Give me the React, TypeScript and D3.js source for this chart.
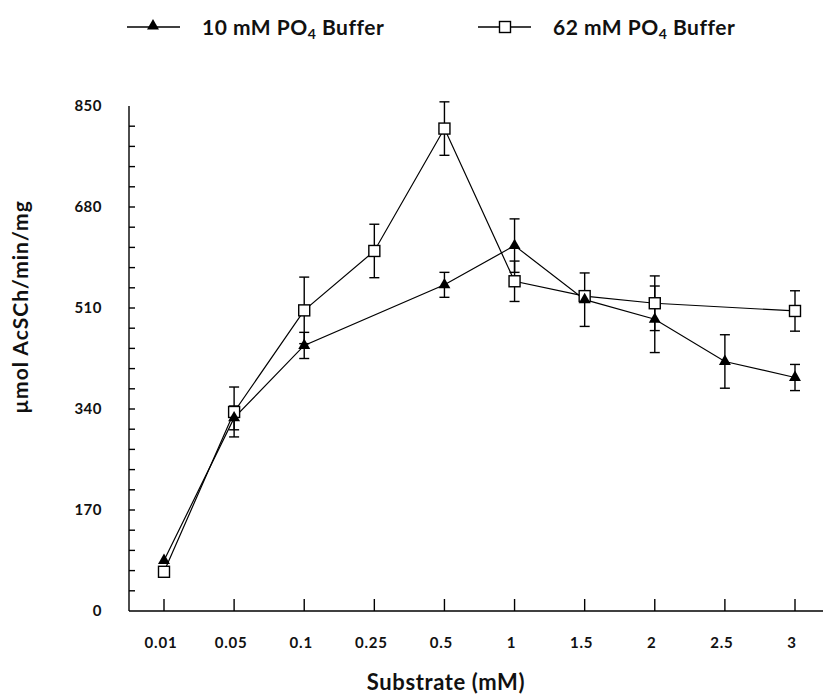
import React from "react";
import * as d3 from "d3";

const categories = ["0.01", "0.05", "0.1", "0.25", "0.5", "1", "1.5", "2", "2.5", "3"];
// 10 mM PO4 buffer (triangles); null = no point
const seriesA: (number | null)[] = [85, 325, 447, null, 549, 615, 524, 491, 420, 393];
const errA: (number | null)[] = [0, 20, 22, null, 21, 45, 45, 56, 45, 22];
// 62 mM PO4 buffer (squares)
const seriesB: (number | null)[] = [66, 335, 506, 606, 812, 555, 530, 518, null, 505];
const errB: (number | null)[] = [0, 42, 56, 45, 45, 34, 0, 46, null, 34];
const yTicks = [0, 170, 340, 510, 680, 850];
const yMinor = d3.range(34, 850, 34);

const W = 823;
const H = 694;
const FONT = "Lato, 'Open Sans', sans-serif";

export default function App() {
  const x = d3.scalePoint<string>().domain(categories).range([164, 795]);
  const y = d3.scaleLinear().domain([0, 850]).range([611, 106]);
  const axisX0 = 129;
  const axisY0 = y(0);

  const mk = (vals: (number | null)[]) =>
    categories
      .map((c, i) => ({ c, v: vals[i], i }))
      .filter((d) => d.v !== null) as { c: string; v: number; i: number }[];
  const ptsA = mk(seriesA);
  const ptsB = mk(seriesB);
  const line = d3
    .line<{ c: string; v: number }>()
    .x((d) => x(d.c)!)
    .y((d) => y(d.v));
  const tri = d3.symbol().type(d3.symbolTriangle).size(62)()!;

  const errBars = (pts: { c: string; v: number; i: number }[], errs: (number | null)[], key: string) =>
    pts.map((d) => {
      const e = errs[d.i] || 0;
      if (!e) return null;
      const cx = x(d.c)!;
      return (
        <g key={key + d.c} stroke="#000" strokeWidth={1.4}>
          <line x1={cx} x2={cx} y1={y(d.v - e)} y2={y(d.v + e)} />
          <line x1={cx - 5} x2={cx + 5} y1={y(d.v + e)} y2={y(d.v + e)} />
          <line x1={cx - 5} x2={cx + 5} y1={y(d.v - e)} y2={y(d.v - e)} />
        </g>
      );
    });

  return (
    <svg
      width={W}
      height={H}
      style={{ position: "absolute", left: 0, top: 0, background: "#fff" }}
      fontFamily={FONT}
    >
      <rect width={W} height={H} fill="#fff" />
      {/* Legend */}
      <g>
        <line x1={127} x2={180} y1={27} y2={27} stroke="#000" strokeWidth={1.4} />
        <path d={tri} transform="translate(153,26)" fill="#000" />
        <text x={202} y={35} fontSize={21} fontWeight="bold" fill="#111" letterSpacing={0.5}>
          10 mM PO<tspan fontSize={14} dy={4}>4</tspan>
          <tspan dy={-4}> Buffer</tspan>
        </text>
        <line x1={478} x2={531} y1={27} y2={27} stroke="#000" strokeWidth={1.4} />
        <rect x={499.5} y={21.5} width={11} height={11} fill="#fff" stroke="#000" strokeWidth={1.4} />
        <text x={553} y={35} fontSize={21} fontWeight="bold" fill="#111" letterSpacing={0.5}>
          62 mM PO<tspan fontSize={14} dy={4}>4</tspan>
          <tspan dy={-4}> Buffer</tspan>
        </text>
      </g>

      {/* Axes */}
      <g stroke="#000" strokeWidth={1.4}>
        <line x1={axisX0} x2={axisX0} y1={y(850)} y2={axisY0} />
        <line x1={axisX0} x2={W} y1={axisY0} y2={axisY0} />
        {yMinor.map((t) => (
          <line key={"ym" + t} x1={axisX0} x2={axisX0 + 6} y1={y(t)} y2={y(t)} />
        ))}
        {categories.map((c) => (
          <line key={"xt" + c} x1={x(c)!} x2={x(c)!} y1={axisY0} y2={axisY0 - 12} />
        ))}
      </g>
      {yTicks.map((t) => (
        <text
          key={"yl" + t}
          x={102}
          y={y(t) + 5}
          textAnchor="end"
          fontSize={15}
          fontWeight="bold"
          fill="#111"
          letterSpacing={0.5}
        >
          {t}
        </text>
      ))}
      {categories.map((c) => (
        <text
          key={"xl" + c}
          x={x(c)! - 3}
          y={648}
          textAnchor="middle"
          fontSize={15}
          fontWeight="bold"
          fill="#111"
          letterSpacing={0.8}
        >
          {c}
        </text>
      ))}
      <text
        x={446}
        y={690}
        textAnchor="middle"
        fontSize={22}
        fontWeight="bold"
        fill="#111"
        letterSpacing={0.6}
      >
        Substrate (mM)
      </text>
      <text
        transform="translate(28,307) rotate(-90)"
        textAnchor="middle"
        fontSize={21}
        fontWeight="bold"
        fill="#111"
        letterSpacing={1}
      >
        µmol AcSCh/min/mg
      </text>

      {/* Error bars */}
      {errBars(ptsB, errB, "eb")}
      {errBars(ptsA, errA, "ea")}

      {/* Lines */}
      <path d={line(ptsB)!} fill="none" stroke="#000" strokeWidth={1.2} />
      <path d={line(ptsA)!} fill="none" stroke="#000" strokeWidth={1.2} />

      {/* Markers */}
      {ptsB.map((d) => (
        <rect
          key={"sb" + d.c}
          x={x(d.c)! - 5.5}
          y={y(d.v) - 5.5}
          width={11}
          height={11}
          fill="#fff"
          stroke="#000"
          strokeWidth={1.4}
        />
      ))}
      {ptsA.map((d) => (
        <path key={"ta" + d.c} d={tri} transform={`translate(${x(d.c)},${y(d.v)})`} fill="#000" />
      ))}
    </svg>
  );
}
